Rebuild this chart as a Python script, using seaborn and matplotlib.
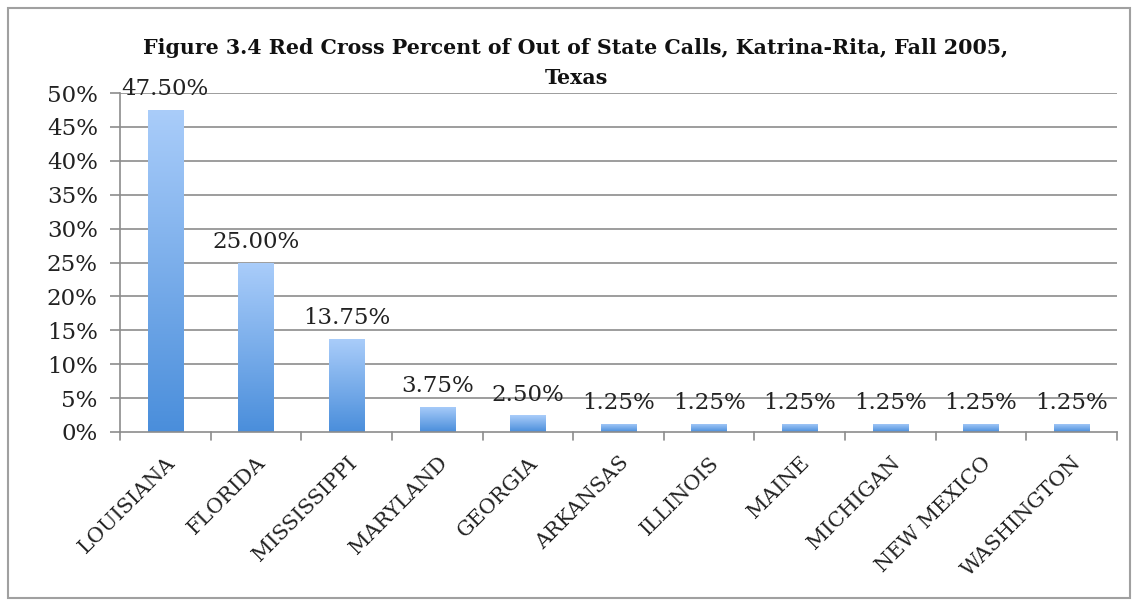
import numpy as np
import pandas as pd
import matplotlib
matplotlib.use("Agg")
import matplotlib.pyplot as plt
import matplotlib.transforms as mtransforms
import seaborn as sns
from matplotlib.colors import LinearSegmentedColormap
from matplotlib.patches import Rectangle

states = ["LOUISIANA", "FLORIDA", "MISSISSIPPI", "MARYLAND", "GEORGIA", "ARKANSAS",
          "ILLINOIS", "MAINE", "MICHIGAN", "NEW MEXICO", "WASHINGTON"]
percent = [47.50, 25.00, 13.75, 3.75, 2.50, 1.25, 1.25, 1.25, 1.25, 1.25, 1.25]
y_ticks = [0, 5, 10, 15, 20, 25, 30, 35, 40, 45, 50]
title_lines = ["Figure 3.4 Red Cross Percent of Out of State Calls, Katrina-Rita, Fall 2005,",
               "Texas"]

sns.set_theme(style="white")
plt.rcParams['font.family'] = ['DejaVu Serif']

df = pd.DataFrame({"state": states, "percent": percent})

fig = plt.figure(figsize=(11.38, 6.01), dpi=100)
ax = fig.add_axes([120/1138, 1-432/601, (1117-120)/1138, (432-93)/601])

sns.barplot(data=df, x="state", y="percent", ax=ax, color="#6aa6ea", width=0.39,
            saturation=1, edgecolor="none")

ax.set_ylim(0, 50)
ax.set_xlim(-0.5, len(states) - 0.5)
ax.set_yticks(y_ticks)
ax.set_yticklabels([f"{v}%" for v in y_ticks], fontsize=16.5, family="DejaVu Serif",
                   color="#222222")
ax.set_xticks(range(len(states)))
ax.set_xticklabels(states, rotation=45, ha="right", va="center", rotation_mode="anchor",
                   fontsize=15, family="DejaVu Serif", color="#222222")
ax.tick_params(axis="x", length=0, pad=20)
ax.tick_params(axis="y", length=7, color="#8c8c8c", width=1.2, left=True, pad=9)
offset = mtransforms.ScaledTranslation(7/100, 0, fig.dpi_scale_trans)
for lab in ax.get_xticklabels():
    lab.set_transform(lab.get_transform() + offset)
ax.set_xlabel("")
ax.set_ylabel("")

for y in y_ticks[1:]:
    ax.axhline(y, color="#8c8c8c", lw=1.2, zorder=0)
for s in ["top", "right"]:
    ax.spines[s].set_visible(False)
for s in ["left", "bottom"]:
    ax.spines[s].set_color("#8c8c8c")
    ax.spines[s].set_linewidth(1.2)

# category separator ticks below x-axis
for b in np.arange(-0.5, len(states), 1.0):
    ax.plot([b, b], [0, -1.2], color="#8c8c8c", lw=1.2, clip_on=False)

# gradient fill on bars
cmap = LinearSegmentedColormap.from_list("g", ["#4a8edb", "#aacdfa"])
grad = np.linspace(0, 1, 256).reshape(-1, 1)
for p in ax.patches:
    x0, w, h = p.get_x(), p.get_width(), p.get_height()
    im = ax.imshow(grad, cmap=cmap, aspect="auto", origin="lower",
                   extent=[x0, x0 + w, 0, h], zorder=2)
    im.set_clip_path(p)
    p.set_facecolor("none")
ax.set_xlim(-0.5, len(states) - 0.5)
ax.set_ylim(0, 50)

for i, v in enumerate(percent):
    ax.text(i, v + 1.4, f"{v:.2f}%", ha="center", va="bottom", fontsize=16.5,
            family="DejaVu Serif", color="#222222", zorder=3)

for line, ypix in zip(title_lines, [48, 78]):
    fig.text(576/1138, 1 - ypix/601, line, ha="center", va="center", fontsize=14.8,
             fontweight="bold", family="DejaVu Serif", color="#111111")

fig.patches.append(Rectangle((8/1138, 3/601), 1122/1138, 590/601, transform=fig.transFigure,
                             fill=False, edgecolor="#a0a0a0", lw=1.5))

fig.savefig("out.png", dpi=100)
